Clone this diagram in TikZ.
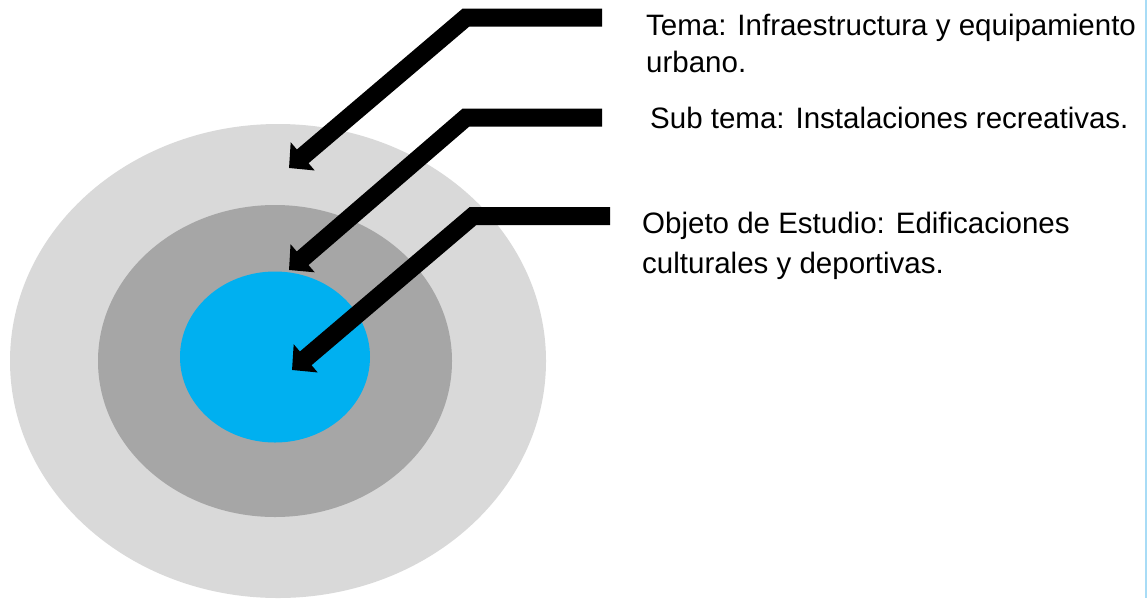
\documentclass[tikz,border=0pt]{standalone}
\usepackage{fontspec}
\setmainfont{Liberation Sans}
\usetikzlibrary{arrows.meta,shapes.geometric}
\definecolor{outergray}{HTML}{D9D9D9}
\definecolor{midgray}{HTML}{A6A6A6}
\definecolor{innerblue}{HTML}{00B0F0}
\definecolor{edgeblue}{HTML}{A8DCF6}
\begin{document}
\begin{tikzpicture}[x=1pt,y=-1pt,
  ring/.style={ellipse, draw=none, inner sep=0pt},
  bigarrow/.style={line width=18pt, line join=miter, -{Triangle[length=18pt,width=36pt]}},
  lbl/.style={anchor=base west, inner sep=0pt, font=\fontsize{29.5}{36}\selectfont}]
\useasboundingbox (0,0) rectangle (1147,598);
% rings
\node[ring, fill=outergray, minimum width=536pt, minimum height=474pt] (outer) at (278,361) {};
\node[ring, fill=midgray, minimum width=354pt, minimum height=312pt] (middle) at (275,361) {};
\node[ring, fill=innerblue, minimum width=190pt, minimum height=171pt] (inner) at (275,357) {};
% arrows
\coordinate (s1) at (602,17.5);
\coordinate (c1) at (466,17.5);
\coordinate (t1) at (289,168);
\coordinate (s2) at (602,117.5);
\coordinate (c2) at (466,117.5);
\coordinate (t2) at (289,270);
\coordinate (s3) at (610,216);
\coordinate (c3) at (473,216);
\coordinate (t3) at (292,370);
\draw[bigarrow] (s1) -- (c1) -- (t1);
\draw[bigarrow] (s2) -- (c2) -- (t2);
\draw[bigarrow] (s3) -- (c3) -- (t3);
% right edge line
\draw[edgeblue, line width=1.5pt] (1146,0) -- (1146,598);
% texts
\node[lbl] (tema1) at (646,35) {Tema: Infraestructura y equipamiento};
\node[lbl] (tema2) at (646,72) {urbano.};
\node[lbl] (sub) at (650,128) {Sub tema: Instalaciones recreativas.};
\node[lbl] (obj1) at (642,233) {Objeto de Estudio: Edificaciones};
\node[lbl] (obj2) at (642,273) {culturales y deportivas.};
\end{tikzpicture}
\end{document}
